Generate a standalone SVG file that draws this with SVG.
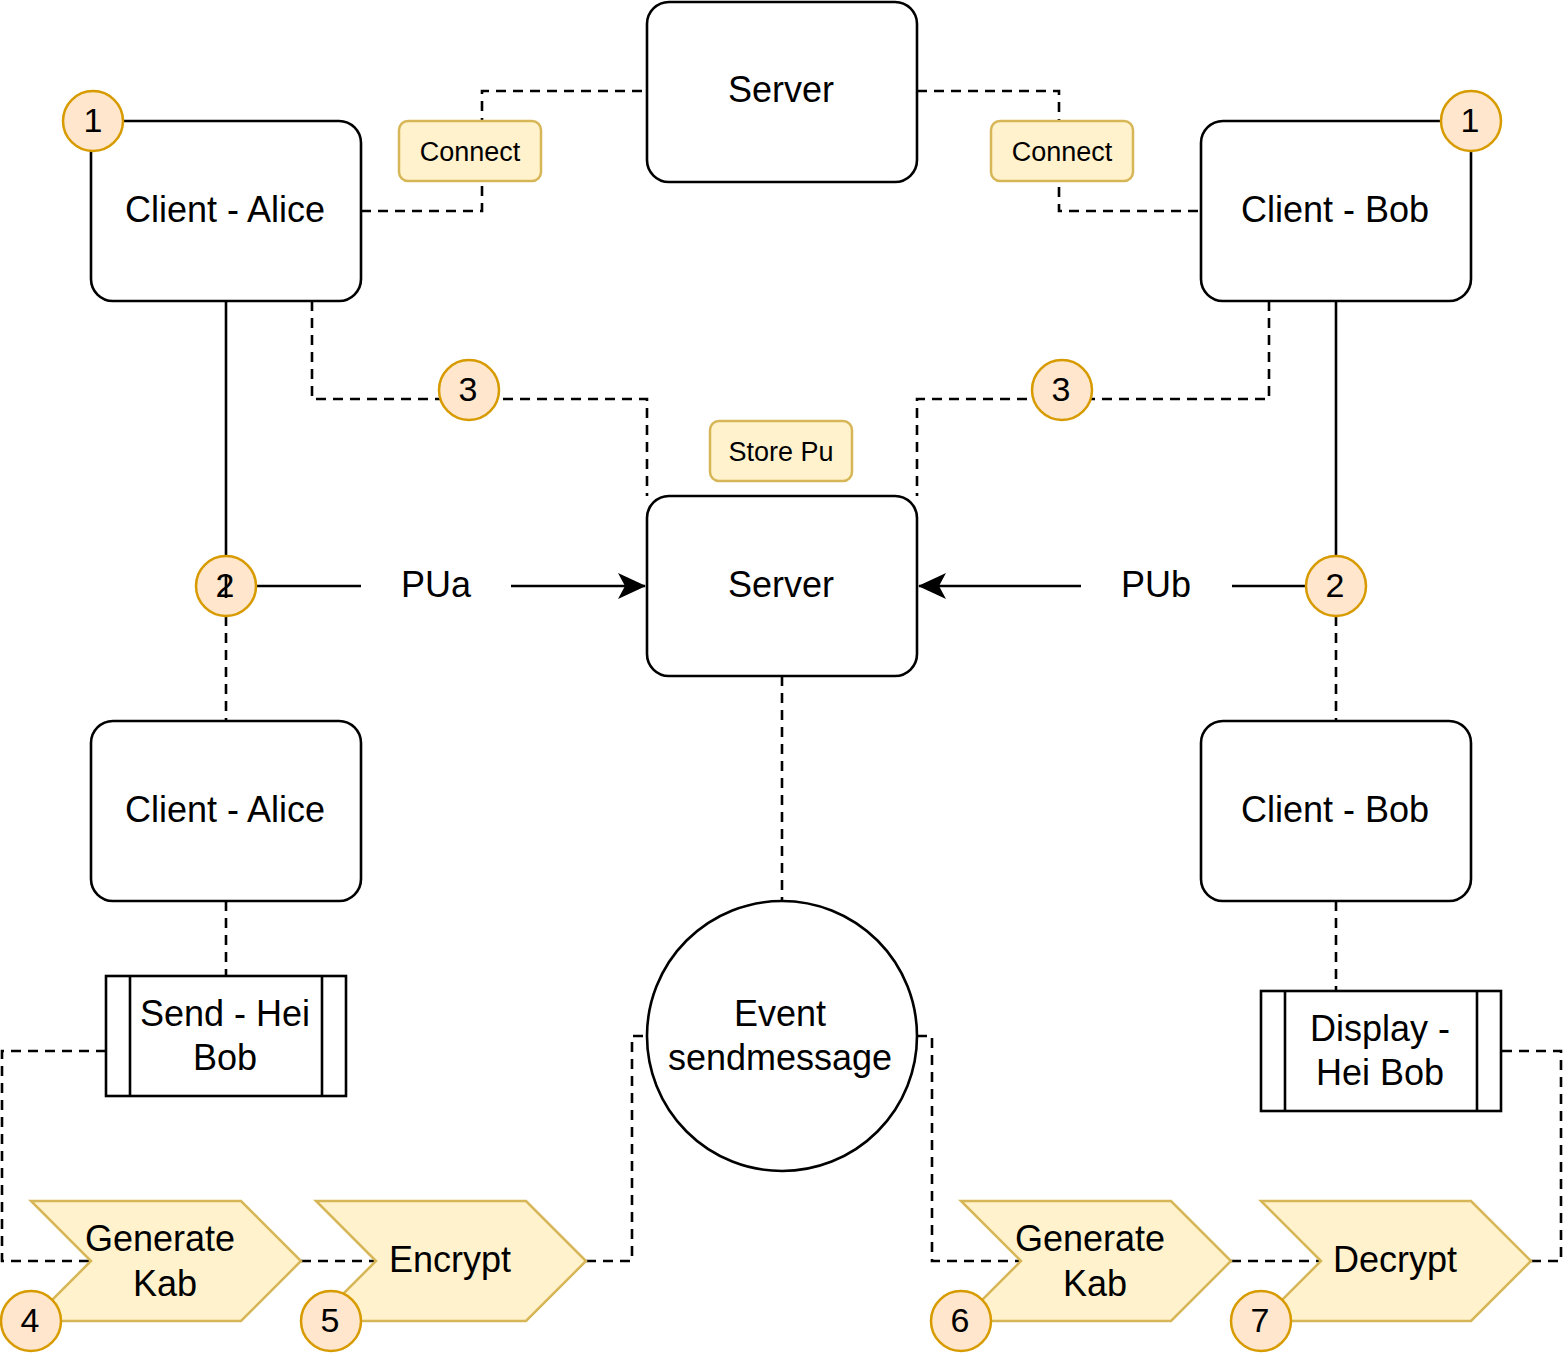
<svg xmlns="http://www.w3.org/2000/svg" width="1566" height="1356" viewBox="0 0 1566 1356">
<defs>
<style>
text{font-family:"Liberation Sans",Arial,Helvetica,sans-serif;fill:#000;text-anchor:middle}
.t{font-size:36px}
.s{font-size:27px}
.n{font-size:34px}
.box{fill:#fff;stroke:#000;stroke-width:2.6}
.lbl{fill:#fff2cc;stroke:#d6b656;stroke-width:2.5}
.step{fill:#fff2cc;stroke:#d6b656;stroke-width:2.5}
.num{fill:#ffe6cc;stroke:#d79b00;stroke-width:2.5}
.solid{fill:none;stroke:#000;stroke-width:2.6}
.dash{fill:none;stroke:#000;stroke-width:2.6;stroke-dasharray:10 7}
</style>
<marker id="arr" viewBox="0 0 28 26" refX="27" refY="13" markerWidth="28" markerHeight="26" markerUnits="userSpaceOnUse" orient="auto">
<path d="M0,0 L28,13 L0,26 L7,13 Z" fill="#000"/>
</marker>
</defs>
<rect width="1566" height="1356" fill="#fff"/>

<g id="connectors">
<path class="dash" d="M361,211 H482 V91 H647"/>
<path class="dash" d="M917,91 H1059 V211 H1201"/>
<path class="dash" d="M312,301 V399 H647 V496"/>
<path class="dash" d="M1269,301 V399 H917 V496"/>
<path class="solid" d="M226,301 V586 H361"/>
<path class="solid" d="M511,586 H645" marker-end="url(#arr)"/>
<path class="solid" d="M1336,301 V586 H1232"/>
<path class="solid" d="M1081,586 H919" marker-end="url(#arr)"/>
<path class="dash" d="M226,616 V721"/>
<path class="dash" d="M1336,616 V721"/>
<path class="dash" d="M782,676 V901"/>
<path class="dash" d="M226,901 V976"/>
<path class="dash" d="M1336,901 V991"/>
<path class="dash" d="M106,1051 H2 V1261 H91"/>
<path class="dash" d="M301,1261 H376"/>
<path class="dash" d="M586,1261 H632 V1036 H647"/>
<path class="dash" d="M917,1036 H932 V1261 H1021"/>
<path class="dash" d="M1231,1261 H1321"/>
<path class="dash" d="M1531,1261 H1561 V1051 H1501"/>
</g>

<g id="server-top"><rect class="box" x="647" y="2" width="270" height="180" rx="22"/><text class="t" x="781" y="102">Server</text></g>
<g id="client-alice-top"><rect class="box" x="91" y="121" width="270" height="180" rx="22"/><text class="t" x="225" y="222">Client - Alice</text></g>
<g id="client-bob-top"><rect class="box" x="1201" y="121" width="270" height="180" rx="22"/><text class="t" x="1335" y="222">Client - Bob</text></g>
<g id="connect-left"><rect class="lbl" x="399" y="121" width="142" height="60" rx="9"/><text class="s" x="470" y="161">Connect</text></g>
<g id="connect-right"><rect class="lbl" x="991" y="121" width="142" height="60" rx="9"/><text class="s" x="1062" y="161">Connect</text></g>
<g id="store-pu"><rect class="lbl" x="710" y="421" width="142" height="60" rx="9"/><text class="s" x="781" y="461">Store Pu</text></g>
<g id="server-mid"><rect class="box" x="647" y="496" width="270" height="180" rx="22"/><text class="t" x="781" y="597">Server</text></g>
<g id="label-pua"><text class="t" x="436" y="597">PUa</text></g>
<g id="label-pub"><text class="t" x="1156" y="597">PUb</text></g>
<g id="client-alice-bottom"><rect class="box" x="91" y="721" width="270" height="180" rx="22"/><text class="t" x="225" y="822">Client - Alice</text></g>
<g id="client-bob-bottom"><rect class="box" x="1201" y="721" width="270" height="180" rx="22"/><text class="t" x="1335" y="822">Client - Bob</text></g>
<g id="event"><circle class="box" cx="782" cy="1036" r="135"/><text class="t" x="780" y="1026">Event</text><text class="t" x="780" y="1070">sendmessage</text></g>
<g id="send"><rect class="box" x="106" y="976" width="240" height="120"/><path class="solid" d="M130,976 V1096 M322,976 V1096"/><text class="t" x="225" y="1026">Send - Hei</text><text class="t" x="225" y="1070">Bob</text></g>
<g id="display"><rect class="box" x="1261" y="991" width="240" height="120"/><path class="solid" d="M1285,991 V1111 M1477,991 V1111"/><text class="t" x="1380" y="1041">Display -</text><text class="t" x="1380" y="1085">Hei Bob</text></g>
<g id="gen-kab-1"><path class="step" d="M31,1201 H241 L301,1261 L241,1321 H31 L91,1261 Z"/><text class="t" x="160" y="1251">Generate</text><text class="t" x="165" y="1296">Kab</text></g>
<g id="encrypt"><path class="step" d="M316,1201 H526 L586,1261 L526,1321 H316 L376,1261 Z"/><text class="t" x="450" y="1272">Encrypt</text></g>
<g id="gen-kab-2"><path class="step" d="M961,1201 H1171 L1231,1261 L1171,1321 H961 L1021,1261 Z"/><text class="t" x="1090" y="1251">Generate</text><text class="t" x="1095" y="1296">Kab</text></g>
<g id="decrypt"><path class="step" d="M1261,1201 H1471 L1531,1261 L1471,1321 H1261 L1321,1261 Z"/><text class="t" x="1395" y="1272">Decrypt</text></g>

<g id="num-1a"><circle class="num" cx="93" cy="121" r="30"/><text class="n" x="93" y="132">1</text></g>
<g id="num-1b"><circle class="num" cx="1471" cy="121" r="30"/><text class="n" x="1470" y="132">1</text></g>
<g id="num-3a"><circle class="num" cx="469" cy="390" r="30"/><text class="n" x="468" y="401">3</text></g>
<g id="num-3b"><circle class="num" cx="1062" cy="390" r="30"/><text class="n" x="1061" y="401">3</text></g>
<g id="num-2a"><circle class="num" cx="226" cy="586" r="30"/><text class="n" x="225" y="597">2</text></g>
<g id="num-2b"><circle class="num" cx="1336" cy="586" r="30"/><text class="n" x="1335" y="597">2</text></g>
<g id="num-4"><circle class="num" cx="31" cy="1321" r="30"/><text class="n" x="30" y="1332">4</text></g>
<g id="num-5"><circle class="num" cx="331" cy="1321" r="30"/><text class="n" x="330" y="1332">5</text></g>
<g id="num-6"><circle class="num" cx="961" cy="1321" r="30"/><text class="n" x="960" y="1332">6</text></g>
<g id="num-7"><circle class="num" cx="1261" cy="1321" r="30"/><text class="n" x="1260" y="1332">7</text></g>

<g id="connector-overlay"><path class="solid" d="M226,574 V598"/></g>
</svg>
